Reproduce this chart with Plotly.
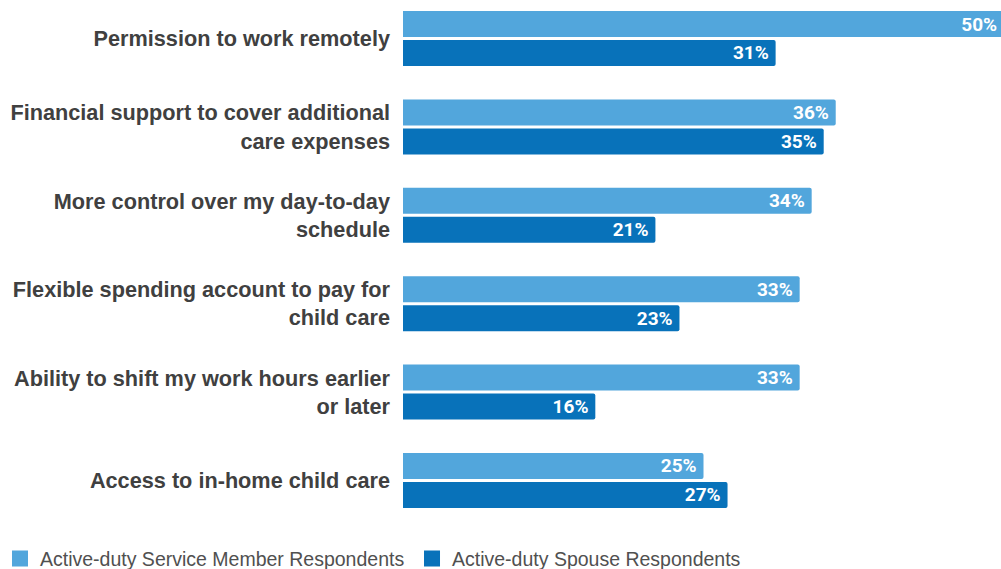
import plotly.graph_objects as go

categories = [
    "Permission to work remotely",
    "Financial support to cover additional<br>care expenses",
    "More control over my day-to-day<br>schedule",
    "Flexible spending account to pay for<br>child care",
    "Ability to shift my work hours earlier<br>or later",
    "Access to in-home child care",
]
service_member = [50, 36, 34, 33, 33, 25]
spouse = [31, 35, 21, 23, 16, 27]
series_names = ["Active-duty Service Member Respondents", "Active-duty Spouse Respondents"]
colors = ["#52A6DC", "#0872BA"]
legend_ids = ["legend", "legend2"]

fig = go.Figure()
for name, vals, col in zip(series_names, [service_member, spouse], colors):
    fig.add_trace(go.Bar(
        y=categories, x=vals, name=name, orientation="h", showlegend=False,
        marker=dict(color=col, line=dict(width=0)),
        text=[f"{v}%\u2009" for v in vals],
        textposition="inside", insidetextanchor="end",
        textfont=dict(color="white", size=19, family="Roboto, Liberation Sans, Arial", weight="bold"),
        constraintext="none",
    ))

# legend entries with larger square swatches
for name, col, lg in zip(series_names, colors, legend_ids):
    fig.add_trace(go.Scatter(
        x=[None], y=[None], mode="markers", name=name, legend=lg,
        marker=dict(symbol="square", size=16, color=col), showlegend=True,
    ))

legend_common = dict(
    orientation="h", xref="container", yref="container",
    xanchor="left", y=0.018, yanchor="middle",
    font=dict(size=19.5, color="#505050"),
    bgcolor="rgba(0,0,0,0)",
)

fig.update_layout(
    width=1001, height=569,
    barmode="group", bargap=0.344, bargroupgap=0.103, barcornerradius=2,
    plot_bgcolor="white", paper_bgcolor="white",
    margin=dict(l=403, r=0, t=0, b=39, autoexpand=False),
    font=dict(family="Liberation Sans, Arial", color="#404040"),
    xaxis=dict(range=[0, 49.75], visible=False, fixedrange=True),
    yaxis=dict(
        type="category", range=[5.56, -0.4355], showgrid=False, zeroline=False,
        showline=False, ticks="", ticklabelstandoff=12,
        tickfont=dict(size=21.7, color="#404040", family="Liberation Sans, Arial", weight="bold"),
    ),
    legend=dict(x=0.0, **legend_common),
    legend2=dict(x=0.4116, **legend_common),
    showlegend=True,
)

fig.write_html("out.html")
